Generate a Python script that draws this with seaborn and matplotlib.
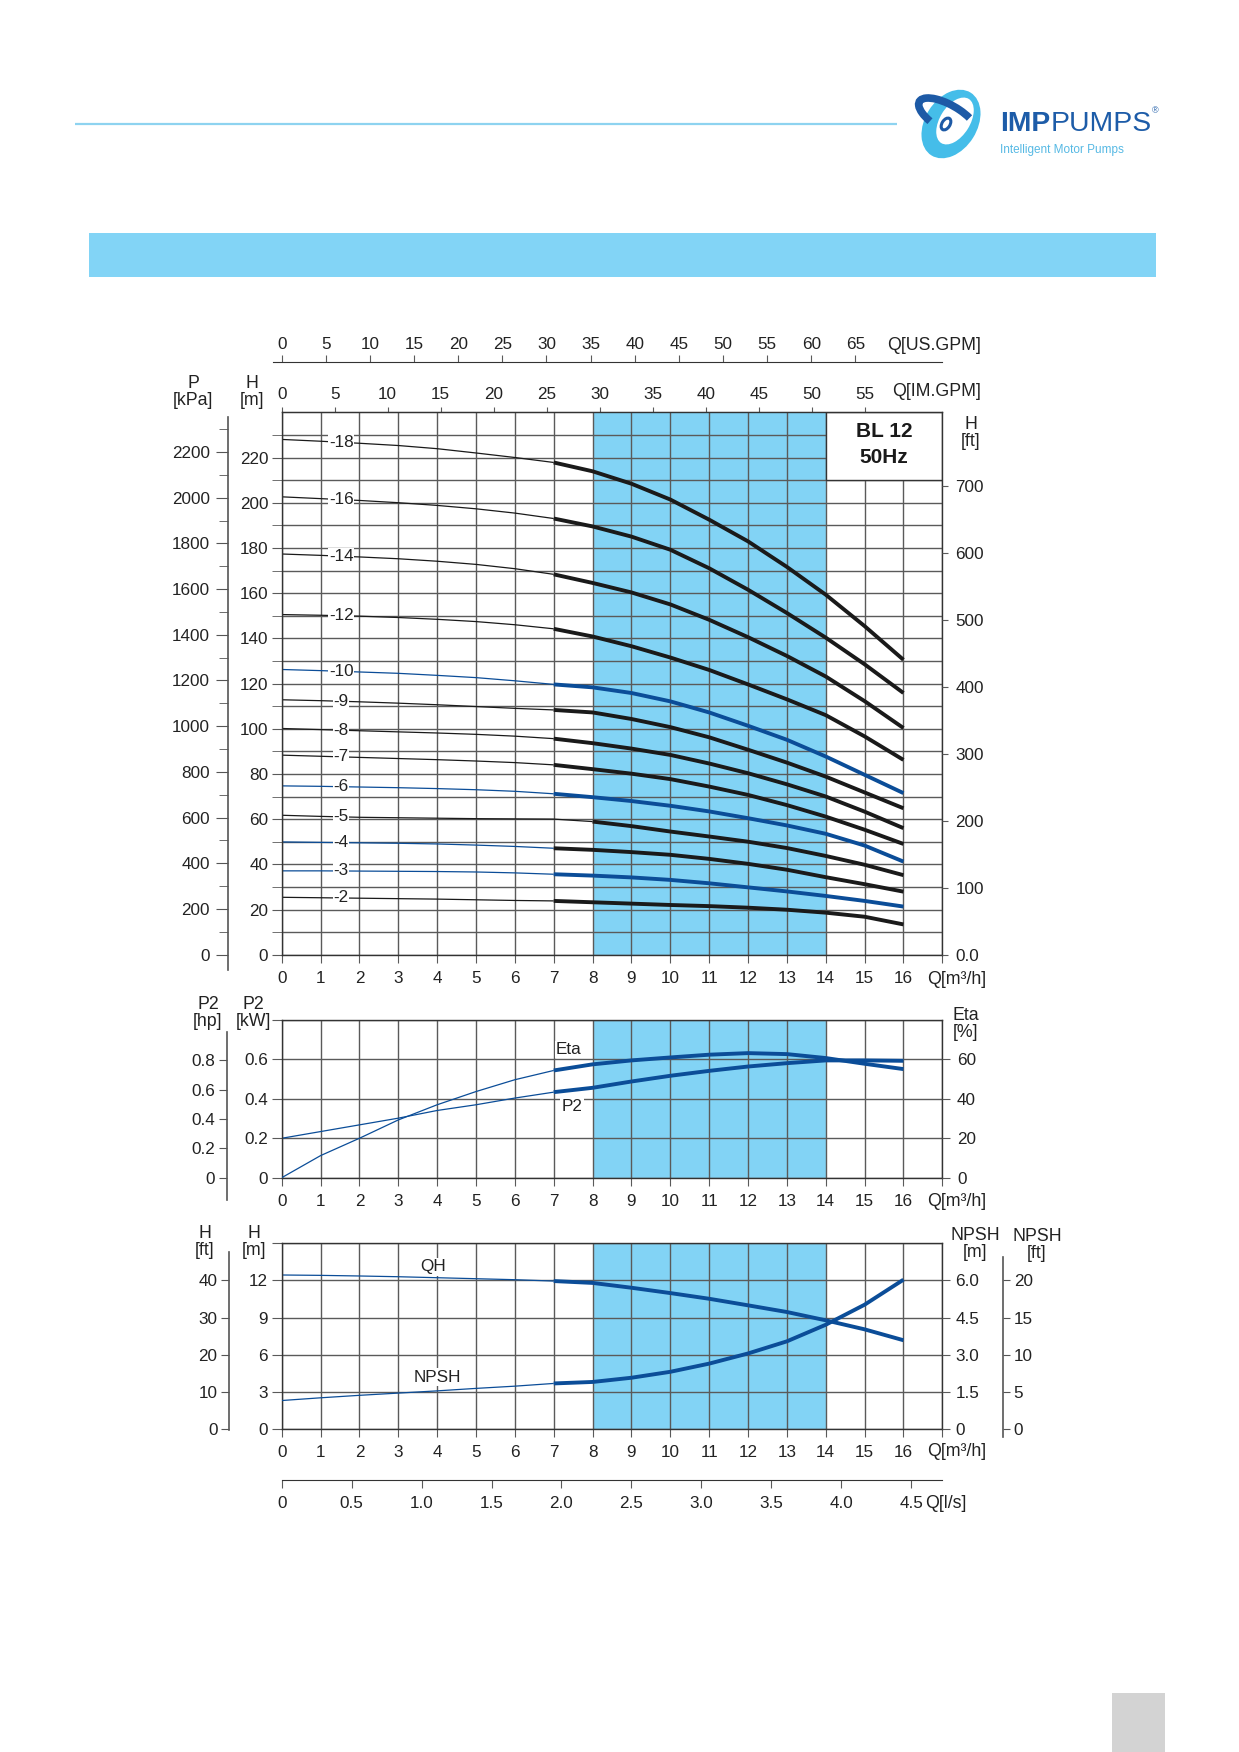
import matplotlib
matplotlib.use("Agg")
import matplotlib.pyplot as plt
from matplotlib.patches import Rectangle, Ellipse, Arc
import numpy as np
import pandas as pd
import seaborn as sns

W, H = 1239, 1752
sns.set_style("ticks")
plt.rcParams['font.family'] = ['Liberation Sans', 'DejaVu Sans']

# ---------------- data ----------------
flow = list(range(17))  # Q [m3/h]

h18 = [228.0, 227.2, 226.3, 225.3, 223.9, 222.0, 220.0, 217.8, 213.9, 208.4, 201.4, 192.5, 182.9, 171.6, 159.3, 145.4, 130.5]
h16 = [202.6, 201.8, 201.0, 200.0, 198.8, 197.3, 195.4, 193.0, 189.5, 185.0, 179.2, 171.0, 161.5, 151.2, 140.3, 128.5, 115.8]
h14 = [177.3, 176.7, 176.0, 175.2, 174.1, 172.7, 170.8, 168.3, 164.5, 160.3, 155.0, 148.2, 140.5, 132.2, 123.1, 112.2, 100.3]
h12 = [150.5, 150.2, 149.8, 149.2, 148.4, 147.4, 146.0, 144.2, 140.8, 136.5, 131.5, 126.0, 119.6, 113.0, 106.0, 96.6, 86.2]
h10 = [126.2, 125.7, 125.1, 124.5, 123.6, 122.6, 121.2, 119.6, 118.3, 115.8, 112.1, 107.2, 101.3, 95.1, 87.7, 79.6, 71.5]
h9 = [112.8, 112.4, 111.9, 111.3, 110.6, 109.8, 109.0, 108.3, 107.2, 104.3, 100.7, 96.2, 90.7, 85.0, 78.8, 71.8, 64.8]
h8 = [100.1, 99.6, 99.1, 98.6, 98.1, 97.5, 96.7, 95.6, 93.6, 91.2, 88.4, 84.6, 80.3, 75.4, 70.0, 63.3, 56.0]
h7 = [88.3, 87.8, 87.3, 86.8, 86.3, 85.7, 85.0, 84.0, 82.1, 80.1, 77.7, 74.4, 70.7, 66.2, 61.1, 55.3, 49.0]
h6 = [74.7, 74.5, 74.2, 73.9, 73.5, 73.0, 72.3, 71.2, 69.7, 68.0, 65.9, 63.4, 60.4, 57.2, 53.5, 48.3, 41.2]
h5 = [61.7, 61.2, 60.8, 60.6, 60.4, 60.2, 60.1, 60.0, 58.9, 56.9, 54.5, 52.3, 50.0, 47.2, 43.7, 39.8, 35.2]
h4 = [49.9, 49.7, 49.5, 49.3, 49.0, 48.5, 47.9, 47.1, 46.4, 45.4, 44.2, 42.4, 40.2, 37.6, 34.3, 31.2, 27.9]
h3 = [37.1, 37.1, 37.0, 36.9, 36.8, 36.6, 36.2, 35.6, 35.0, 34.2, 33.1, 31.6, 29.8, 28.0, 26.0, 23.8, 21.3]
h2 = [25.4, 25.2, 25.0, 24.8, 24.6, 24.3, 24.0, 23.8, 23.2, 22.6, 22.0, 21.5, 20.8, 19.9, 18.6, 16.8, 13.4]

stage_labels = ['-18', '-16', '-14', '-12', '-10', '-9', '-8', '-7', '-6', '-5', '-4', '-3', '-2']
stage_heads = [h18, h16, h14, h12, h10, h9, h8, h7, h6, h5, h4, h3, h2]

eta = [0.0, 11.2, 20.0, 29.3, 37.0, 43.7, 49.7, 54.4, 57.5, 59.5, 61.0, 62.4, 63.2, 62.7, 60.7, 57.8, 55.1]
p2_kw = [0.200, 0.234, 0.268, 0.302, 0.341, 0.370, 0.404, 0.434, 0.456, 0.488, 0.517, 0.542, 0.564, 0.581, 0.595, 0.595, 0.593]

qh = [12.44, 12.41, 12.36, 12.30, 12.22, 12.14, 12.06, 11.95, 11.80, 11.41, 10.98, 10.52, 9.99, 9.45, 8.78, 8.05, 7.17]
npsh = [1.15, 1.26, 1.36, 1.45, 1.54, 1.64, 1.73, 1.84, 1.90, 2.07, 2.31, 2.64, 3.05, 3.54, 4.21, 5.02, 6.03]

us_gpm_ticks = list(range(0, 66, 5))
im_gpm_ticks = list(range(0, 56, 5))
ls_ticks = [0, 0.5, 1.0, 1.5, 2.0, 2.5, 3.0, 3.5, 4.0, 4.5]
ft_ticks = list(range(0, 701, 100))
kpa_major = list(range(0, 2201, 200))
kpa_minor = list(range(100, 2301, 200))

# ---------------- styling ----------------
BLACK = '#1a1a1a'
BLUE = '#0b4d98'
SPAN = '#82d3f5'
GRID = '#5a5a5a'
TXT = '#222222'
FS = 12.3
FSL = 12.8
THIN, THICK = 0.9, 2.8

# thin/thick colours and thick start index per curve
thin_cols = [BLACK, BLACK, BLACK, BLACK, BLUE, BLACK, BLACK, BLACK, BLUE, BLACK, BLUE, BLUE, BLACK]
thick_cols = [BLACK, BLACK, BLACK, BLACK, BLUE, BLACK, BLACK, BLACK, BLUE, BLACK, BLACK, BLUE, BLACK]
thick_start = [7, 7, 7, 7, 7, 7, 7, 7, 7, 8, 7, 7, 7]

KPA_PER_M = 9.89
M_PER_FT_MAIN = 0.296
M_PER_FT_SMALL = 0.3
HP_PER_KW = 1.341
USGPM = 4.403
IMGPM = 3.666
LS = 3.6

X0, X1 = 281.7, 942.3
PX_Q = (X1 - X0) / 17


def px_rect(x0, y0, x1, y1):
    return [x0 / W, 1 - y1 / H, (x1 - x0) / W, (y1 - y0) / H]


def curve(ax, x, y, color, lw):
    sns.lineplot(x=x, y=y, ax=ax, color=color, linewidth=lw, estimator=None,
                 sort=False, legend=False, solid_capstyle='butt', zorder=2.2)


def style_plot(ax, ylim):
    ax.set_xlim(0, 17)
    ax.set_ylim(*ylim)
    ax.set_axisbelow('line')
    ax.axvspan(8, 14, color=SPAN, lw=0, zorder=1)
    ax.set_xticks(range(18))
    ax.set_xticklabels([str(i) for i in range(17)] + [''])
    ax.tick_params(axis='x', direction='out', length=6, pad=5.5, bottom=True, top=False,
                   color=GRID, labelcolor=TXT, labelsize=FS)
    ax.tick_params(axis='y', which='both', direction='out', length=7.2, pad=2.5, left=True,
                   right=False, color=GRID, labelcolor=TXT, labelsize=FS)
    ax.grid(True, which='major', axis='x', color=GRID, lw=1.0)
    ax.grid(True, which='both', axis='y', color=GRID, lw=1.0)
    for s in ax.spines.values():
        s.set_color('#333333')
        s.set_linewidth(1.0)
    ax.set_xlabel('')
    ax.set_ylabel('')


def side_axis(rect, ylim, side='left'):
    a = fig.add_axes(rect)
    a.patch.set_visible(False)
    for k, s in a.spines.items():
        s.set_visible(k == side)
        s.set_color('#555555')
        s.set_linewidth(1.2)
    a.set_xticks([])
    a.set_ylim(*ylim)
    if side == 'right':
        a.yaxis.tick_right()
    a.tick_params(axis='y', which='both', color='#555555', labelcolor=TXT, labelsize=FS)
    return a


fig = plt.figure(figsize=(W / 100, H / 100), dpi=100)
fig.patch.set_facecolor('white')

# ---------------- main Q-H chart ----------------
ax = fig.add_axes(px_rect(X0, 412.3, X1, 954.7))
style_plot(ax, (0, 240))
ax.set_yticks(range(0, 221, 20))
ax.set_yticks(range(10, 240, 20), minor=True)

for lab, hv, ct, ck, k in zip(stage_labels, stage_heads, thin_cols, thick_cols, thick_start):
    curve(ax, flow[:k + 1], hv[:k + 1], ct, THIN)
    curve(ax, flow[k:], hv[k:], ck, THICK)
    ax.text(1.53, (hv[1] + hv[2]) / 2, lab, ha='center', va='center', fontsize=FS, color=TXT,
            zorder=3, bbox=dict(facecolor='white', edgecolor='none', pad=0.5))

ax.add_patch(Rectangle((14, 210), 3, 30, facecolor='white', edgecolor='#333333', lw=1.0, zorder=1.8))
ax.text(15.5, 231.6, 'BL 12', ha='center', va='center', fontsize=15, fontweight='bold', color=BLACK, zorder=3)
ax.text(15.5, 219.8, '50Hz', ha='center', va='center', fontsize=15, fontweight='bold', color=BLACK, zorder=3)

sec = ax.secondary_xaxis('top', functions=(lambda q: q * IMGPM, lambda g: g / IMGPM))
sec.set_xticks(im_gpm_ticks)
sec.tick_params(direction='out', length=3.6, pad=3.5, color=GRID, labelcolor=TXT, labelsize=FS)

axr = ax.twinx()
axr.set_ylim(0, 240 / M_PER_FT_MAIN)
axr.set_yticks(ft_ticks)
axr.set_yticklabels(['0.0'] + [str(v) for v in ft_ticks[1:]])
axr.tick_params(axis='y', direction='out', length=4.5, pad=5, color=GRID, labelcolor=TXT, labelsize=FS)
for s in axr.spines.values():
    s.set_visible(False)

# kPa axis
px_m = (954.7 - 412.3) / 240
ak = side_axis(px_rect(227.7, 417, 228.7, 970),
               (-(970 - 954.7) / px_m * KPA_PER_M, (954.7 - 417) / px_m * KPA_PER_M))
ak.set_yticks(kpa_major)
ak.set_yticks(kpa_minor, minor=True)
ak.tick_params(axis='y', which='major', length=9, pad=4)
ak.tick_params(axis='y', which='minor', length=6.5)

# US GPM axis
us_lo = -(X0 - 273) / PX_Q * USGPM
us_hi = (942 - X0) / PX_Q * USGPM
au = fig.add_axes(px_rect(273, 361.7, 942, 362.7))
au.patch.set_visible(False)
for k, s in au.spines.items():
    s.set_visible(k == 'top')
    s.set_color('#333333')
au.set_xlim(us_lo, us_hi)
au.set_yticks([])
au.xaxis.tick_top()
au.set_xticks(us_gpm_ticks)
au.tick_params(axis='x', direction='out', length=4.8, pad=2.5, color=GRID, labelcolor=TXT, labelsize=FS)

# ---------------- power / efficiency chart ----------------
am = fig.add_axes(px_rect(X0, 1020, X1, 1177.7))
style_plot(am, (0, 0.8))
am.set_yticks([0, 0.2, 0.4, 0.6, 0.8])
am.set_yticklabels(['0', '0.2', '0.4', '0.6', ''])
curve(am, flow[:8], p2_kw[:8], BLUE, THIN)
curve(am, flow[7:], p2_kw[7:], BLUE, THICK)
am.text(7.47, 0.361, 'P2', ha='center', va='center', fontsize=FS, color=TXT, zorder=3,
        bbox=dict(facecolor='white', edgecolor='none', pad=0.8))

ame = am.twinx()
ame.set_ylim(0, 80)
ame.set_yticks([0, 20, 40, 60])
ame.tick_params(axis='y', direction='out', length=5.5, pad=5, color=GRID, labelcolor=TXT, labelsize=FS)
for s in ame.spines.values():
    s.set_visible(False)
curve(ame, flow[:8], eta[:8], BLUE, THIN)
curve(ame, flow[7:], eta[7:], BLUE, THICK)
ame.text(7.39, 64.9, 'Eta', ha='center', va='center', fontsize=FS, color=TXT, zorder=3,
         bbox=dict(facecolor='white', edgecolor='none', pad=0.8))

px_kw = (1177.7 - 1020) / 0.8
px_hp = px_kw / HP_PER_KW
ah = side_axis(px_rect(226.7, 1031.7, 227.7, 1200),
               (-(1200 - 1177.7) / px_hp, (1177.7 - 1031.7) / px_hp))
ah.set_yticks([0, 0.2, 0.4, 0.6, 0.8])
ah.set_yticklabels(['0', '0.2', '0.4', '0.6', '0.8'])
ah.tick_params(axis='y', length=5.5, pad=3)

# ---------------- QH / NPSH chart ----------------
ab = fig.add_axes(px_rect(X0, 1243.3, X1, 1429))
style_plot(ab, (0, 15))
ab.set_yticks([0, 3, 6, 9, 12, 15])
ab.set_yticklabels(['0', '3', '6', '9', '12', ''])
curve(ab, flow[:8], qh[:8], BLUE, THIN)
curve(ab, flow[7:], qh[7:], BLUE, THICK)
ab.text(3.9, 13.1, 'QH', ha='center', va='center', fontsize=FS, color=TXT, zorder=3,
        bbox=dict(facecolor='white', edgecolor='none', pad=0.8))

abn = ab.twinx()
abn.set_ylim(0, 7.5)
abn.set_yticks([0, 1.5, 3.0, 4.5, 6.0])
abn.set_yticklabels(['0', '1.5', '3.0', '4.5', '6.0'])
abn.tick_params(axis='y', direction='out', length=5.5, pad=4, color=GRID, labelcolor=TXT, labelsize=FS)
for s in abn.spines.values():
    s.set_visible(False)
curve(abn, flow[:8], npsh[:8], BLUE, THIN)
curve(abn, flow[7:], npsh[7:], BLUE, THICK)
abn.text(4.0, 2.1, 'NPSH', ha='center', va='center', fontsize=FS, color=TXT, zorder=3,
         bbox=dict(facecolor='white', edgecolor='none', pad=0.8))

px_mb = (1429 - 1243.3) / 15
px_ft = px_mb * M_PER_FT_SMALL
af = side_axis(px_rect(229.3, 1251.7, 230.3, 1430), (-(1430 - 1429) / px_ft, (1429 - 1251.7) / px_ft))
af.set_yticks([0, 10, 20, 30, 40])
af.tick_params(axis='y', length=5.5, pad=3)

px_nft = px_mb * 2 * M_PER_FT_SMALL
an = side_axis(px_rect(1002.3, 1256.7, 1003.3, 1436.7),
               (-(1436.7 - 1429) / px_nft, (1429 - 1256.7) / px_nft), side='right')
an.set_yticks([0, 5, 10, 15, 20])
an.tick_params(axis='y', length=5, pad=2.5)

# l/s axis
al = fig.add_axes(px_rect(X0, 1479, X1, 1480))
al.patch.set_visible(False)
for k, s in al.spines.items():
    s.set_visible(k == 'bottom')
    s.set_color('#333333')
al.set_xlim(0, (X1 - X0) / (PX_Q * LS))
al.set_yticks([])
al.set_xticks(ls_ticks)
al.set_xticklabels(['0'] + ['%.1f' % v for v in ls_ticks[1:]])
al.tick_params(axis='x', direction='out', length=6, pad=5.5, color=GRID, labelcolor=TXT, labelsize=FS)

# ---------------- page decorations, in pixel coordinates ----------------
bg = fig.add_axes([0, 0, 1, 1], zorder=10)
bg.patch.set_visible(False)
bg.set_xlim(0, W)
bg.set_ylim(H, 0)
bg.axis('off')

bg.plot([75, 897], [124, 124], color='#8ed3f0', lw=1.6, solid_capstyle='butt')
bg.add_patch(Rectangle((89, 233), 1067, 44, facecolor='#82d4f6', edgecolor='none'))
bg.add_patch(Rectangle((1112, 1693), 53, 59, facecolor='#d3d3d3', edgecolor='none'))

# logo mark
bg.add_patch(Ellipse((951, 124), 52, 74, angle=32, facecolor='#45bde9', edgecolor='none'))
bg.add_patch(Ellipse((955, 121), 30, 52, angle=32, facecolor='white', edgecolor='none'))
bg.add_artist(Arc((948, 118), 66, 26, angle=30, theta1=140, theta2=330, color='#1d5aa6', lw=5.5))
bg.add_patch(Ellipse((946, 124), 8, 13, angle=32, facecolor='white', edgecolor='#1d5aa6', lw=2.2))

# logo word mark, laid out by measuring the rendered text
LOGO = '#1d5ca8'
fam = ['DejaVu Sans Condensed', 'Liberation Sans']
t_imp = bg.text(1000, 124, 'IMP', ha='left', va='center', fontsize=24, fontweight='bold', color=LOGO, family=fam)
t_pumps = bg.text(1045, 124, 'PUMPS', ha='left', va='center', fontsize=24, color=LOGO, family=fam)
t_reg = bg.text(1155, 111, '®', ha='left', va='center', fontsize=6.5, color=LOGO)
t_tag = bg.text(1000, 150, 'Intelligent Motor Pumps', ha='left', va='center', fontsize=8.5,
                color='#56b9e4', family=fam)
fig.canvas.draw()
r = fig.canvas.get_renderer()
w_imp = t_imp.get_window_extent(r).width
w_pumps = t_pumps.get_window_extent(r).width
f = 152.0 / (w_imp + w_pumps)
size = min(26.0, 24 * f)
t_imp.set_fontsize(size)
t_pumps.set_fontsize(size)
fig.canvas.draw()
w_imp = t_imp.get_window_extent(r).width
w_pumps = t_pumps.get_window_extent(r).width
t_pumps.set_x(1000 + w_imp)
t_reg.set_x(1000 + w_imp + w_pumps + 1)
w_tag = t_tag.get_window_extent(r).width
t_tag.set_fontsize(8.5 * 123.0 / w_tag)

# axis unit labels
kw = dict(fontsize=FSL, color=TXT, linespacing=1.0)
bg.text(981, 345, 'Q[US.GPM]', ha='right', va='center', **kw)
bg.text(981, 391.7, 'Q[IM.GPM]', ha='right', va='center', **kw)
bg.text(193, 392, 'P\n[kPa]', ha='center', va='center', **kw)
bg.text(252, 392, 'H\n[m]', ha='center', va='center', **kw)
bg.text(971, 433, 'H\n[ft]', ha='center', va='center', **kw)
bg.text(927, 979, 'Q[m³/h]', ha='left', va='center', **kw)

bg.text(208, 1013, 'P2\n[hp]', ha='center', va='center', **kw)
bg.text(253, 1013, 'P2\n[kW]', ha='center', va='center', **kw)
bg.text(966, 1024, 'Eta\n[%]', ha='center', va='center', **kw)
bg.text(927, 1201.7, 'Q[m³/h]', ha='left', va='center', **kw)

bg.text(205, 1242, 'H\n[ft]', ha='center', va='center', **kw)
bg.text(254, 1242, 'H\n[m]', ha='center', va='center', **kw)
bg.text(975, 1244, 'NPSH\n[m]', ha='center', va='center', **kw)
bg.text(1037, 1245, 'NPSH\n[ft]', ha='center', va='center', **kw)
bg.text(927, 1451.7, 'Q[m³/h]', ha='left', va='center', **kw)
bg.text(925, 1503.3, 'Q[l/s]', ha='left', va='center', **kw)

fig.savefig('out.png', dpi=100, facecolor='white')
